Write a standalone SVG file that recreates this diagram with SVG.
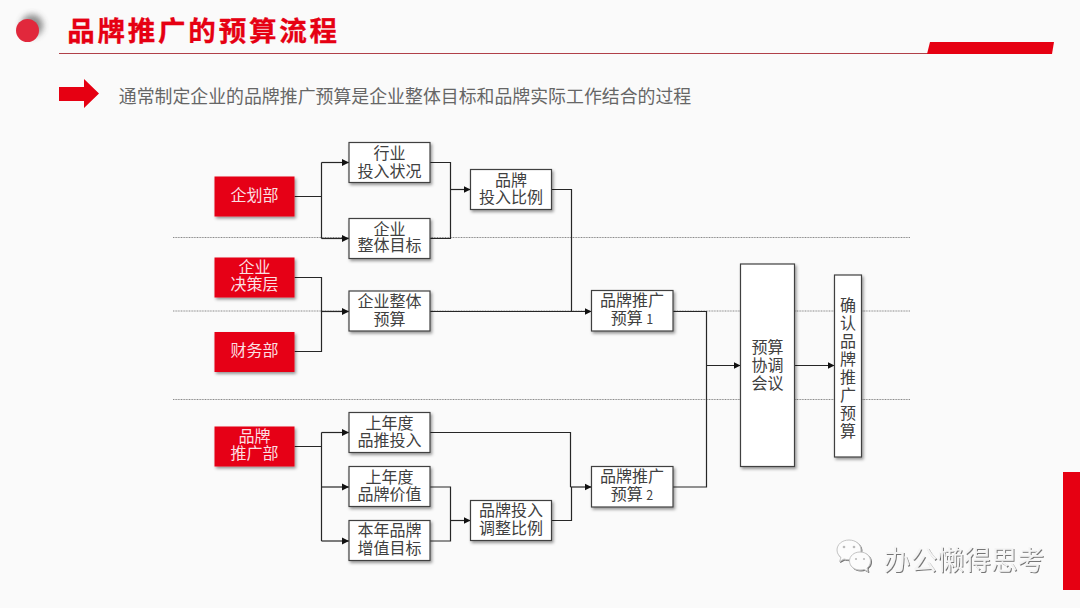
<svg xmlns="http://www.w3.org/2000/svg" width="1080" height="608" viewBox="0 0 1080 608">
<style>
text{font-family:"Noto Sans CJK SC","Noto Sans",sans-serif;text-anchor:middle}
.n rect{fill:#fff;stroke:#404040;stroke-width:1.200;filter:url(#sh)}
.n text{font-size:16px;fill:#404040}
.r rect{fill:#e60012;filter:url(#sh)}
.r text{font-size:16px;fill:#fbdfe1}
.g{font-size:12.500px}
.c path{fill:none;stroke:#262626;stroke-width:1.200}
.a{marker-end:url(#ah)}
.d line{stroke:#8a8a8a;stroke-width:1;stroke-dasharray:1 .6}
</style>
<defs>
<filter id="sh" x="-20%" y="-20%" width="140%" height="140%"><feDropShadow dx="1.500" dy="2" stdDeviation="1.500" flood-color="#000" flood-opacity=".4"/></filter>
<filter id="bl" x="-50%" y="-50%" width="200%" height="200%"><feGaussianBlur stdDeviation="3"/></filter>
<filter id="ws" x="-10%" y="-10%" width="120%" height="120%"><feDropShadow dx="1" dy="1" stdDeviation=".4" flood-color="#666" flood-opacity=".9"/></filter>
<marker id="ah" markerUnits="userSpaceOnUse" markerWidth="8" markerHeight="8" refX="7" refY="4" orient="auto"><path d="M0 .5L7 4L0 7.500z" fill="#111"/></marker>
</defs>
<rect width="1080" height="608" fill="#fafafa"/>
<g id="header">
<circle cx="32" cy="25.500" r="11" fill="#444" opacity=".6" filter="url(#bl)"/>
<circle cx="27.500" cy="30.500" r="11.500" fill="#e1283c"/>
<text x="203.500" y="41" style="font-size:27.500px;font-weight:700;letter-spacing:2.800px;fill:#e60012;stroke:#e60012;stroke-width:.3">品牌推广的预算流程</text>
<line x1="59" y1="53.500" x2="928" y2="53.500" stroke="#b04048" stroke-width="1"/>
<polygon points="930,42 1054,42 1052,54 927,54" fill="#e60012"/>
<polygon points="59,87 84,87 84,79 99,93.500 84,108 84,101 59,101" fill="#e60012"/>
<text x="405" y="103" style="font-size:17.900px;fill:#666">通常制定企业的品牌推广预算是企业整体目标和品牌实际工作结合的过程</text>
<rect x="1063" y="472" width="17" height="118" fill="#e60012"/>
</g>
<g class="d" id="dividers">
<line x1="173" y1="237.500" x2="910" y2="237.500"/>
<line x1="173" y1="311" x2="910" y2="311"/>
<line x1="173" y1="399.500" x2="910" y2="399.500"/>
</g>
<g class="c" id="connectors">
<path d="M294.500 196.500H321.500M321.500 162.500V238.500"/>
<path class="a" d="M321.500 162.500H349"/>
<path class="a" d="M321.500 238.500H349"/>
<path d="M430 162.500H450.500V238.500H430"/>
<path class="a" d="M450.500 189.500H470.500"/>
<path d="M551.500 189.500H571.500V311.500"/>
<path class="a" d="M430 311.500H591.500"/>
<path d="M294.500 277.500H321.500V351.500H294.500"/>
<path class="a" d="M321.500 311.500H349"/>
<path d="M294.500 446.500H321.500M321.500 432.500V541"/>
<path class="a" d="M321.500 432.500H349"/>
<path class="a" d="M321.500 487H349"/>
<path class="a" d="M321.500 541H349"/>
<path d="M430 487H450.500V541H430"/>
<path class="a" d="M450.500 520.500H470.500"/>
<path d="M430 432.500H570.500V487"/>
<path d="M551.500 520.500H571.500V487"/>
<path class="a" d="M570.500 487H591.500"/>
<path d="M673 311.500H706.500V487H673"/>
<path class="a" d="M706.500 365.500H740.500"/>
<path class="a" d="M794.500 365.500H834.500"/>
</g>
<g id="n1" class="r"><rect x="214.500" y="176.500" width="80" height="40"/><text x="254.500" y="201">企划部</text></g>
<g id="n2" class="r"><rect x="214.500" y="257.500" width="80" height="40"/><text x="254.500" y="273">企业<tspan x="254.500" dy="17">决策层</tspan></text></g>
<g id="n3" class="r"><rect x="214.500" y="332" width="80" height="40"/><text x="254.500" y="356">财务部</text></g>
<g id="n4" class="r"><rect x="214.500" y="426.500" width="80" height="40"/><text x="254.500" y="442">品牌<tspan x="254.500" dy="17">推广部</tspan></text></g>
<g id="n5" class="n"><rect x="349" y="142.500" width="81" height="40"/><text x="389.500" y="159">行业<tspan x="389.500" dy="18">投入状况</tspan></text></g>
<g id="n6" class="n"><rect x="349" y="218.500" width="81" height="40"/><text x="389.500" y="235">企业<tspan x="389.500" dy="16">整体目标</tspan></text></g>
<g id="n7" class="n"><rect x="470.500" y="169.500" width="81" height="40"/><text x="511" y="186">品牌<tspan x="511" dy="17">投入比例</tspan></text></g>
<g id="n8" class="n"><rect x="349" y="291" width="81" height="40"/><text x="389.500" y="307">企业整体<tspan x="389.500" dy="18">预算</tspan></text></g>
<g id="n9" class="n"><rect x="349" y="412.500" width="81" height="40"/><text x="389.500" y="429">上年度<tspan x="389.500" dy="17">品推投入</tspan></text></g>
<g id="n10" class="n"><rect x="349" y="466.500" width="81" height="40"/><text x="389.500" y="483">上年度<tspan x="389.500" dy="17">品牌价值</tspan></text></g>
<g id="n11" class="n"><rect x="349" y="520.500" width="81" height="40"/><text x="389.500" y="536">本年品牌<tspan x="389.500" dy="18">增值目标</tspan></text></g>
<g id="n12" class="n"><rect x="470.500" y="500.500" width="81" height="40"/><text x="511" y="516">品牌投入<tspan x="511" dy="18">调整比例</tspan></text></g>
<g id="n13" class="n"><rect x="591.500" y="290.500" width="81.500" height="40.500"/><text x="632" y="306">品牌推广<tspan x="632" dy="18">预算 <tspan class="g">1</tspan></tspan></text></g>
<g id="n14" class="n"><rect x="591.500" y="466.500" width="81.500" height="40.500"/><text x="632" y="482">品牌推广<tspan x="632" dy="18">预算 <tspan class="g">2</tspan></tspan></text></g>
<g id="n15" class="n"><rect x="740.500" y="264" width="54" height="202.500"/><text x="767.500" y="353">预算<tspan x="767.500" dy="18">协调</tspan><tspan x="767.500" dy="18">会议</tspan></text></g>
<g id="n16" class="n"><rect x="834.500" y="275" width="27" height="182"/><text x="848" y="311">确<tspan x="848" dy="18">认</tspan><tspan x="848" dy="18">品</tspan><tspan x="848" dy="18">牌</tspan><tspan x="848" dy="18">推</tspan><tspan x="848" dy="18">广</tspan><tspan x="848" dy="18">预</tspan><tspan x="848" dy="18">算</tspan></text></g>
<g id="watermark">
<g fill="#fcfcfc" stroke="#c4c4c4" stroke-width="1" filter="url(#ws)">
<path d="M849 540c-7 0-12 4.500-12 10 0 3 1.500 5.500 4 7.500l-1.500 4 4.500-2.500c1.500.5 3 .7 5 .7 7 0 12-4.500 12-9.700 0-5.500-5-10-12-10z"/>
<path d="M860 552c-6 0-10.500 4-10.500 9s4.500 9 10.500 9c1.500 0 3-.2 4-.6l4 2.100-1-3.500c2.300-1.600 3.500-4 3.500-7 0-5-4.500-9-10.500-9z"/>
</g>
<g fill="#bbb"><circle cx="844" cy="547" r="1.300"/><circle cx="854" cy="547" r="1.300"/><circle cx="856" cy="559" r="1.100"/><circle cx="864" cy="559" r="1.100"/></g>
<text x="964" y="570" filter="url(#ws)" style="font-size:26.800px;fill:#f4f4f4">办公懒得思考</text>
</g>
</svg>
